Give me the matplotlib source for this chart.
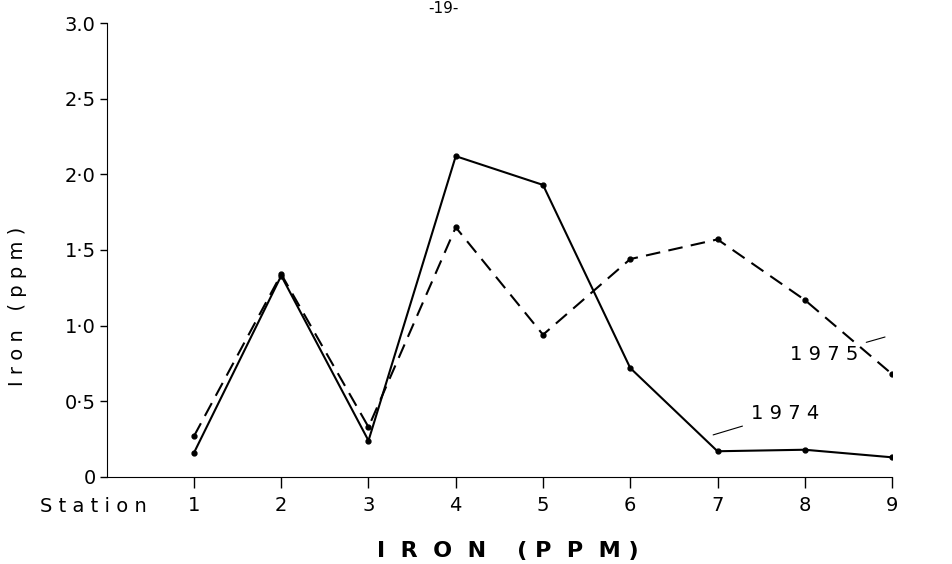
import matplotlib.pyplot as plt

# -----------------------------
# Data
# -----------------------------
stations = [1, 2, 3, 4, 5, 6, 7, 8, 9]
iron_1974 = [0.16, 1.33, 0.24, 2.12, 1.93, 0.72, 0.17, 0.18, 0.13]
iron_1975 = [0.27, 1.34, 0.33, 1.65, 0.94, 1.44, 1.57, 1.17, 0.68]

y_ticks = [0, 0.5, 1.0, 1.5, 2.0, 2.5, 3.0]
y_tick_labels = ['0', '0\u00b75', '1\u00b70', '1\u00b75', '2\u00b70', '2\u00b75', '3.0']

plt.rcParams['font.family'] = 'DejaVu Sans'

fig = plt.figure(figsize=(9.53, 5.64), dpi=100)
ax = fig.add_axes([0.112, 0.1543, 0.824, 0.8049])

ax.plot(stations, iron_1974, color='black', lw=1.5, marker='o', markersize=3.5)
ax.plot(stations, iron_1975, color='black', lw=1.5, marker='o', markersize=3.5,
        linestyle=(0, (7, 4)))

ax.set_xlim(0, 9)
ax.set_ylim(0, 3)
ax.set_xticks(stations)
ax.set_xticklabels([str(s) for s in stations], fontsize=14)
ax.set_yticks(y_ticks)
ax.set_yticklabels(y_tick_labels, fontsize=14)
ax.tick_params(axis='x', direction='out', length=8, width=1, pad=6)
ax.tick_params(axis='y', direction='out', length=5, width=1, pad=3)

ax.spines['top'].set_visible(False)
ax.spines['right'].set_visible(False)

# series labels with leader lines
ax.annotate('1 9 7 5', xy=(8.92, 0.925), xytext=(8.22, 0.81), fontsize=14,
            ha='center', va='center',
            arrowprops=dict(arrowstyle='-', color='black', lw=0.8, shrinkA=4, shrinkB=0))
ax.annotate('1 9 7 4', xy=(6.95, 0.278), xytext=(7.77, 0.42), fontsize=14,
            ha='center', va='center',
            arrowprops=dict(arrowstyle='-', color='black', lw=0.8, shrinkA=4, shrinkB=0))

fig.text(93 / 953, 1 - 506 / 564, 'S t a t i o n', fontsize=14, ha='center', va='center')
fig.text(18 / 953, 1 - 306 / 564, 'I r o n   ( p p m )', fontsize=14,
         rotation=90, ha='center', va='center')
fig.text(508 / 953, 1 - 551 / 564, 'I  R  O  N    ( P  P  M )', fontsize=16,
         fontweight='bold', ha='center', va='center')
fig.text(443 / 953, 0.998, '-19-', fontsize=11, ha='center', va='top')

fig.savefig('out.png', dpi=100)
plt.close(fig)
